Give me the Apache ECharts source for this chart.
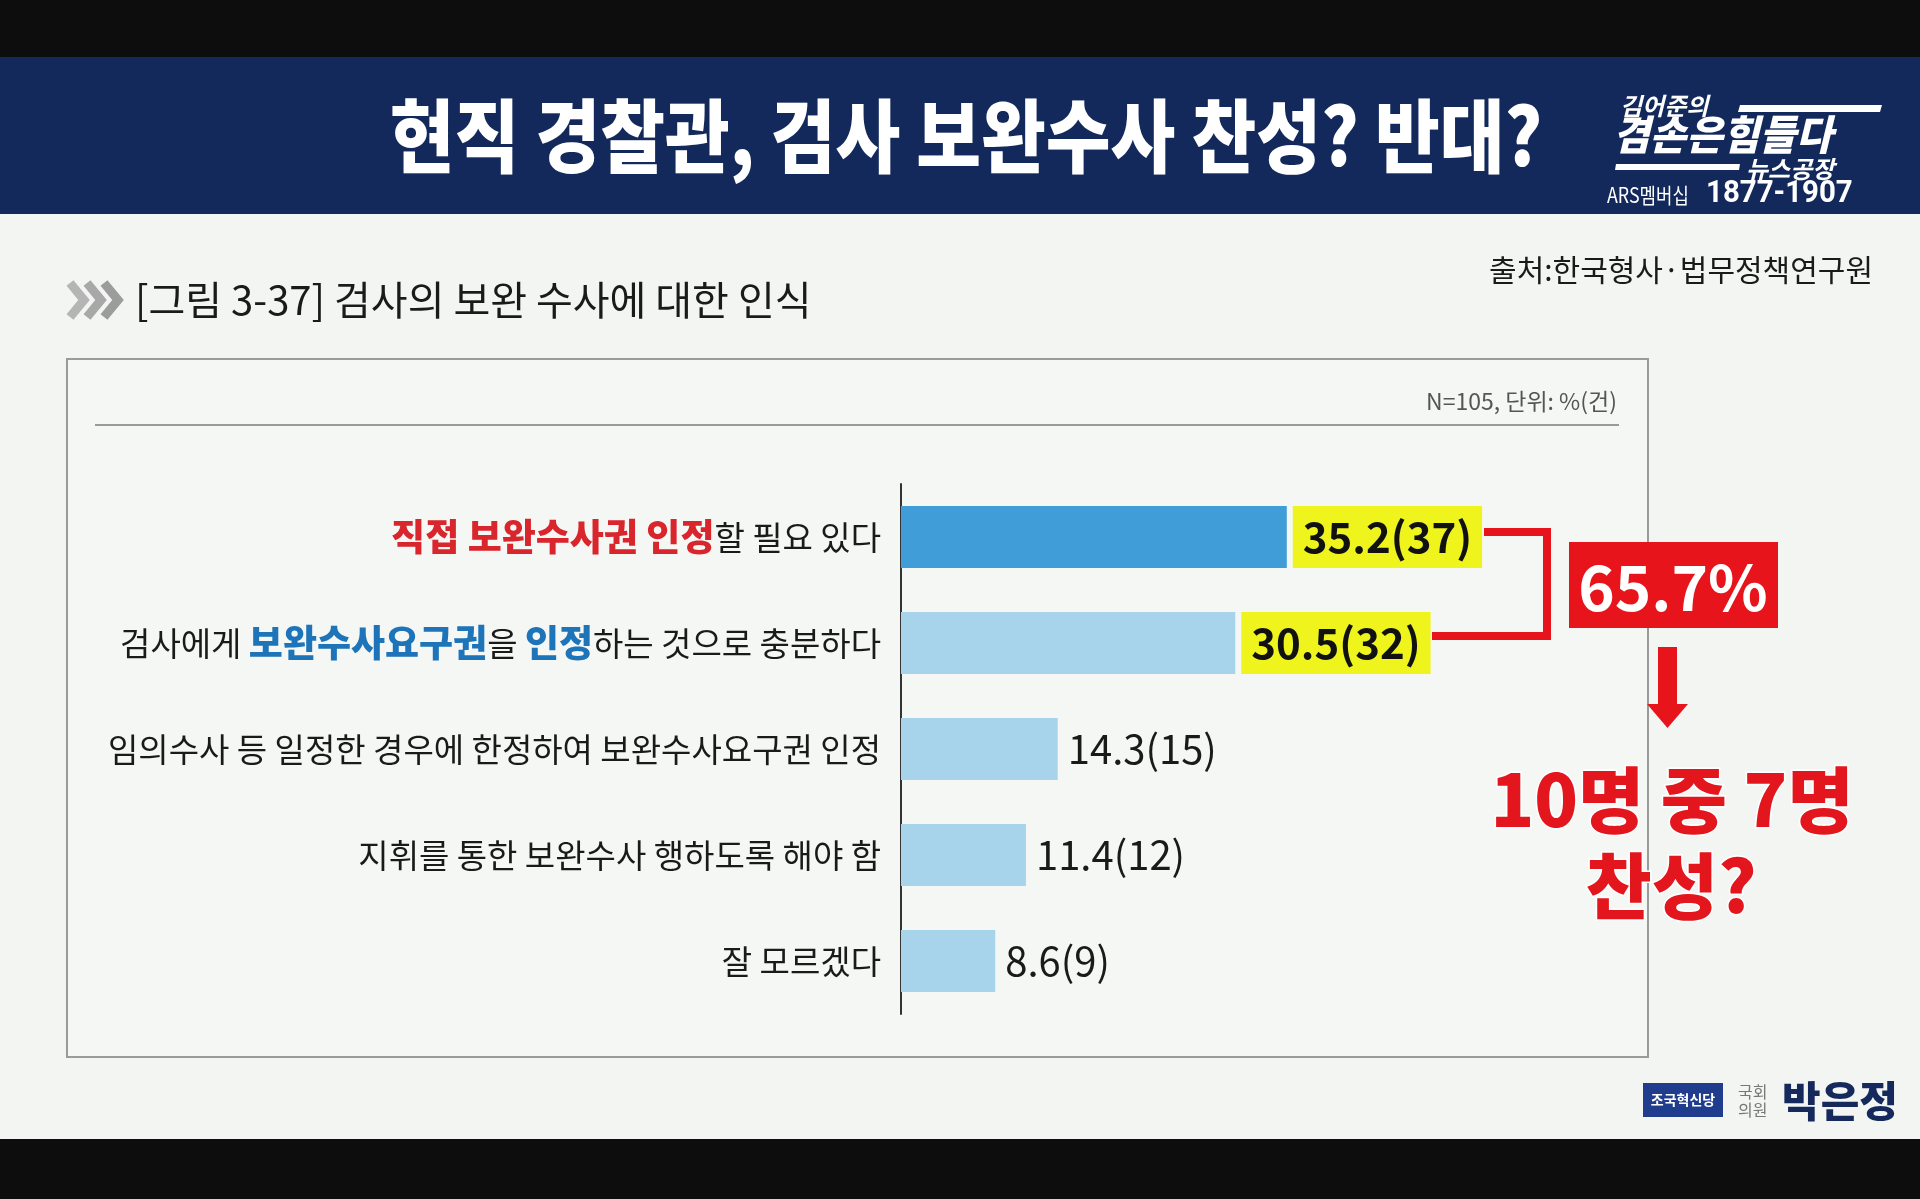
<!DOCTYPE html>
<html><head><meta charset="utf-8">
<script src="https://cdn.jsdelivr.net/npm/echarts@6/dist/echarts.min.js"></script>
<style>html,body{margin:0;padding:0;background:#f3f5f3;}#c{width:1920px;height:1199px;}</style>
</head><body><div id="c"></div>
<script>
var categories = ['직접 보완수사권 인정할 필요 있다','검사에게 보완수사요구권을 인정하는 것으로 충분하다','임의수사 등 일정한 경우에 한정하여 보완수사요구권 인정','지휘를 통한 보완수사 행하도록 해야 함','잘 모르겠다'];
var percents = [35.2, 30.5, 14.3, 11.4, 8.6];
var counts = [37, 32, 15, 12, 9];
var highlighted = [true, true, false, false, false];
var titleText = '현직 경찰관, 검사 보완수사 찬성? 반대?';
var subtitleText = '[그림 3-37] 검사의 보완 수사에 대한 인식';
var sourceText = '출처:한국형사·법무정책연구원';
var unitText = 'N=105, 단위: %(건)';
var sumText = '65.7%';

var F = '"Noto Sans CJK KR","Noto Sans",sans-serif';
var chart = echarts.init(document.getElementById('c'), null, {renderer:'canvas'});

function catLabel(v, i){
  if(i===0) return '{red|직접 보완수사권 인정}{n|할 필요 있다}';
  if(i===1) return '{n|검사에게 }{blue|보완수사요구권}{n|을 }{blue|인정}{n|하는 것으로 충분하다}';
  return '{n|'+v+'}';
}

var barData = percents.map(function(p,i){
  return {
    value: p,
    itemStyle: {color: i===0 ? '#409dd7' : '#a7d4eb'},
    label: highlighted[i] ? {
      show:true, position:'right', distance:6,
      formatter: p.toFixed(1)+'('+counts[i]+')',
      fontFamily:F, fontWeight:'bold', fontSize:42, color:'#111',
      backgroundColor:'#eef41c', padding:[9,10,9,10], lineHeight:44
    } : {
      show:true, position:'right', distance:10,
      formatter: p.toFixed(1)+'('+counts[i]+')',
      fontFamily:F, fontWeight:'normal', fontSize:40, color:'#1a1a1a'
    }
  };
});

var option = {
  backgroundColor:'#f3f5f3',
  animation:false,
  grid:{left:901, top:484, width:548, height:530, containLabel:false},
  xAxis:{type:'value', min:0, max:50, show:false},
  yAxis:{type:'category', data:categories, inverse:true,
    axisLine:{show:true, lineStyle:{color:'#333', width:2}},
    axisTick:{show:false},
    axisLabel:{margin:20, formatter:catLabel,
      rich:{
        n:{fontFamily:F, fontSize:33, color:'#1a1a1a'},
        red:{fontFamily:F, fontSize:37, color:'#d8262c', fontWeight:'900'},
        blue:{fontFamily:F, fontSize:37, color:'#1d74b8', fontWeight:'900'}
      }}
  },
  series:[{type:'bar', data:barData, barWidth:62}],
  graphic:[]
};
chart.setOption(option);

var p0 = chart.convertToPixel({gridIndex:0}, [percents[0], 0]);
var p1 = chart.convertToPixel({gridIndex:0}, [percents[1], 1]);
var g = [
  {type:'rect', z:-10, shape:{x:0,y:0,width:1920,height:57}, style:{fill:'#0d0d0d'}},
  {type:'rect', z:-10, shape:{x:0,y:57,width:1920,height:157}, style:{fill:'#13295b'}},
  {type:'rect', z:-10, shape:{x:0,y:1139,width:1920,height:60}, style:{fill:'#0d0d0d'}},
  {type:'rect', z:-9, shape:{x:67,y:359,width:1581,height:698}, style:{fill:'#f5f7f5', stroke:'#9a9a9a', lineWidth:2}},
  {type:'text', x:966, y:136, scaleX:0.88, style:{text:titleText, fontFamily:F, fontWeight:'900', fontSize:80, fill:'#ffffff', textAlign:'center', textVerticalAlign:'middle', shadowColor:'rgba(0,0,0,0.4)', shadowBlur:4, shadowOffsetY:2}},
  // logo
  {type:'text', x:1620, y:106, style:{text:'김어준의', fontFamily:F, fontWeight:'bold', fontStyle:'italic', fontSize:24, fill:'#fff', textVerticalAlign:'middle'}},
  {type:'polygon', shape:{points:[[1740,105],[1882,105],[1880,112],[1738,112]]}, style:{fill:'#fff'}},
  {type:'text', x:1613, y:134, scaleX:0.97, style:{text:'겸손은힘들다', fontFamily:F, fontWeight:'900', fontStyle:'italic', fontSize:41, fill:'#fff', textVerticalAlign:'middle'}},
  {type:'polygon', shape:{points:[[1616,164],[1740,164],[1739,170],[1615,170]]}, style:{fill:'#fff'}},
  {type:'text', x:1746, y:169, style:{text:'뉴스공장', fontFamily:F, fontWeight:'bold', fontStyle:'italic', fontSize:24, fill:'#fff', textVerticalAlign:'middle'}},
  {type:'text', x:1607, y:195, scaleX:0.85, style:{text:'ARS멤버십', fontFamily:F, fontSize:21, fill:'#fff', textVerticalAlign:'middle'}},
  {type:'text', x:1706, y:194, scaleX:0.92, style:{text:'1877-1907', fontFamily:'Roboto,"Noto Sans",sans-serif', fontWeight:'bold', fontSize:32, fill:'#fff', textVerticalAlign:'middle'}},
  // subtitle
  {type:'polyline', shape:{points:[[70,283],[84,300],[70,317]]}, style:{stroke:'#b5b5b5', lineWidth:9, fill:null}},
  {type:'polyline', shape:{points:[[87,283],[101,300],[87,317]]}, style:{stroke:'#a8a8a8', lineWidth:9, fill:null}},
  {type:'polyline', shape:{points:[[104,283],[118,300],[104,317]]}, style:{stroke:'#9c9c9c', lineWidth:9, fill:null}},
  {type:'text', x:135, y:300, style:{text:subtitleText, fontFamily:F, fontSize:40, fill:'#1a1a1a', textVerticalAlign:'middle'}},
  {type:'text', x:1873, y:270, style:{text:sourceText, fontFamily:F, fontSize:30, fill:'#1a1a1a', textAlign:'right', textVerticalAlign:'middle'}},
  {type:'text', x:1617, y:401, style:{text:unitText, fontFamily:F, fontSize:23, fill:'#555', textAlign:'right', textVerticalAlign:'middle'}},
  {type:'line', shape:{x1:95,y1:425,x2:1619,y2:425}, style:{stroke:'#9a9a9a', lineWidth:2}},
  // bracket
  {type:'polyline', shape:{points:[[1484,p0[1]-5],[1547,p0[1]-5],[1547,p1[1]-7],[1432,p1[1]-7]]}, style:{stroke:'#e8141c', lineWidth:8, fill:null}},
  {type:'rect', shape:{x:1569,y:542,width:209,height:86}, style:{fill:'#e8141c'}},
  {type:'text', x:1673, y:587, style:{text:sumText, fontFamily:F, fontWeight:'bold', fontSize:62, fill:'#ffffff', textAlign:'center', textVerticalAlign:'middle'}},
  {type:'rect', shape:{x:1658,y:647,width:19,height:60}, style:{fill:'#e8141c'}},
  {type:'polygon', shape:{points:[[1647,704],[1688,704],[1667.5,728]]}, style:{fill:'#e8141c'}},
  {type:'text', x:1672, y:800, style:{text:'10명 중 7명', fontFamily:F, fontWeight:'900', fontSize:72, fill:'#e3161d', textAlign:'center', textVerticalAlign:'middle', stroke:'#ffffff', lineWidth:3}},
  {type:'text', x:1671, y:886, style:{text:'찬성?', fontFamily:F, fontWeight:'900', fontSize:72, fill:'#e3161d', textAlign:'center', textVerticalAlign:'middle', stroke:'#ffffff', lineWidth:3}},
  // footer logos
  {type:'rect', shape:{x:1643,y:1083,width:80,height:34}, style:{fill:'#1f3d8c'}},
  {type:'text', x:1683, y:1100, style:{text:'조국혁신당', fontFamily:F, fontWeight:'bold', fontSize:14, fill:'#fff', textAlign:'center', textVerticalAlign:'middle'}},
  {type:'text', x:1738, y:1101, style:{text:'국회\n의원', fontFamily:F, fontSize:16, lineHeight:18, fill:'#777', textVerticalAlign:'middle'}},
  {type:'text', x:1782, y:1101, style:{text:'박은정', fontFamily:F, fontWeight:'900', fontSize:42, fill:'#16295c', textVerticalAlign:'middle'}}
];
chart.setOption({graphic:g});
</script></body></html>
